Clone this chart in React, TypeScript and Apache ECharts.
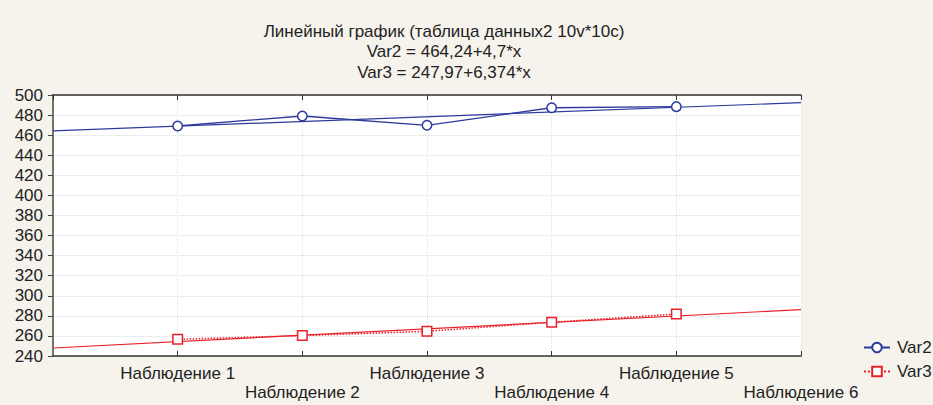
import React, { useEffect, useRef } from "react";
import * as echarts from "echarts";

const categories = ["Наблюдение 1", "Наблюдение 2", "Наблюдение 3", "Наблюдение 4", "Наблюдение 5", "Наблюдение 6"];
const var2Values = [469.1, 479.1, 469.8, 487.3, 488.4];
const var3Values = [256.6, 260.3, 264.6, 273.6, 281.8];
const var2Fit = { a: 464.24, b: 4.7 };
const var3Fit = { a: 247.97, b: 6.374 };
const titleLines = [
  "Линейный график (таблица данных2 10v*10c)",
  "Var2 = 464,24+4,7*x",
  "Var3 = 247,97+6,374*x",
];
const yMin = 240;
const yMax = 500;
const yStep = 20;

const FONT = "Liberation Sans, Arial, sans-serif";
const BLUE = "#2b3a9c";
const RED = "#e8202a";

export default function App() {
  const ref = useRef<HTMLDivElement>(null);
  useEffect(() => {
    if (!ref.current) return;
    const chart = echarts.init(ref.current, undefined, { renderer: "svg" });
    const xMax = categories.length;
    const fitLine = (f: { a: number; b: number }) => [
      [0, f.a],
      [xMax, f.a + f.b * xMax],
    ];
    chart.setOption({
      animation: false,
      backgroundColor: "#f6f3ec",
      title: {
        text: titleLines.join("\n"),
        left: 439,
        top: 16,
        textAlign: "center",
        textStyle: { fontFamily: FONT, fontSize: 17, fontWeight: "normal", color: "#222", lineHeight: 20.5 },
      },
      legend: {
        data: ["Var2", "Var3"],
        orient: "vertical",
        left: 863,
        top: 339,
        padding: 0,
        itemWidth: 26,
        itemHeight: 12,
        itemGap: 7,
        textStyle: { fontFamily: FONT, fontSize: 17, color: "#222", padding: [0, 0, 0, 2] },
      },
      grid: {
        left: 53,
        top: 95,
        right: 132,
        bottom: 49,
        show: true,
        backgroundColor: "#ffffff",
        borderWidth: 0,
      },
      xAxis: [
        {
          type: "value",
          min: 0,
          max: xMax,
          interval: 1,
          position: "bottom",
          axisLine: { show: true, lineStyle: { color: "#333", width: 1.5 } },
          axisTick: { show: true, inside: true, length: 5, lineStyle: { color: "#333" } },
          axisLabel: {
            show: true,
            margin: 8,
            showMinLabel: false,
            showMaxLabel: true,
            fontFamily: FONT,
            fontSize: 17,
            color: "#222",
            lineHeight: 19,
            formatter: (v: number) => {
              if (v < 1) return "";
              const name = categories[v - 1];
              return v % 2 === 0 ? "\n" + name : name;
            },
          },
          splitLine: { show: true, lineStyle: { color: "#e2e2e2", type: "dotted" } },
        },
        {
          type: "value",
          min: 0,
          max: xMax,
          interval: 1,
          position: "top",
          axisLine: { show: true, lineStyle: { color: "#333", width: 1.5 } },
          axisTick: { show: true, inside: true, length: 5, lineStyle: { color: "#333" } },
          axisLabel: { show: false },
          splitLine: { show: false },
        },
      ],
      yAxis: [
        {
          type: "value",
          min: yMin,
          max: yMax,
          interval: yStep,
          position: "left",
          axisLine: { show: true, lineStyle: { color: "#333", width: 1.5 } },
          axisTick: { show: false },
          axisLabel: { fontFamily: FONT, fontSize: 17, color: "#222", margin: 10 },
          splitLine: { show: true, lineStyle: { color: "#dcdcdc", type: "dotted" } },
        },
        {
          type: "value",
          min: yMin,
          max: yMax,
          interval: yStep,
          position: "right",
          axisLine: { show: true, lineStyle: { color: "#777", width: 1.5 } },
          axisTick: { show: true, inside: true, length: 5, lineStyle: { color: "#444" } },
          axisLabel: { show: false },
          splitLine: { show: false },
        },
      ],
      series: [
        {
          name: "Var2",
          type: "line",
          data: var2Values.map((v, i) => [i + 1, v]),
          symbol: "circle",
          symbolSize: 9.5,
          itemStyle: { color: "#ffffff", borderColor: BLUE, borderWidth: 1.5 },
          lineStyle: { color: BLUE, width: 1.3 },
          z: 3,
        },
        {
          name: "Var3",
          type: "line",
          data: var3Values.map((v, i) => [i + 1, v]),
          symbol: "rect",
          symbolSize: 9.5,
          itemStyle: { color: "#ffffff", borderColor: RED, borderWidth: 1.5 },
          lineStyle: { color: RED, width: 1.5, type: "dotted" },
          z: 3,
        },
        {
          name: "Var2 fit",
          type: "line",
          data: fitLine(var2Fit),
          symbol: "none",
          lineStyle: { color: BLUE, width: 1.2 },
          z: 2,
        },
        {
          name: "Var3 fit",
          type: "line",
          data: fitLine(var3Fit),
          symbol: "none",
          lineStyle: { color: RED, width: 1.2 },
          z: 2,
        },
      ],
    });
    return () => chart.dispose();
  }, []);
  return <div ref={ref} style={{ position: "absolute", left: 0, top: 0, width: 933, height: 405 }} />;
}
